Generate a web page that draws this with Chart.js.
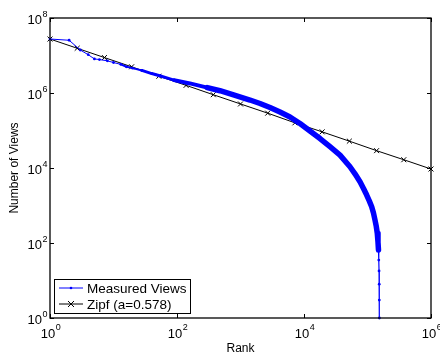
<!DOCTYPE html>
<html>
<head>
<meta charset="utf-8">
<script src="https://cdn.jsdelivr.net/npm/chart.js@4.4.0/dist/chart.umd.min.js"></script>
<style>
  html, body { margin: 0; padding: 0; background: #fff; }
  #wrap { width: 440px; height: 358px; }
</style>
</head>
<body>
<div id="wrap"><canvas id="zipfChart" width="440" height="358"></canvas></div>
<script>
// Measured views
const measuredRank = [1, 2, 3, 4, 5, 6, 8, 10, 13, 16, 20, 28, 40, 55, 90, 160, 300, 475, 800, 1411, 2028,
    2915, 4188, 6020, 8650, 12420, 17860, 25650, 36900, 53000, 63500, 76200, 86500, 97100,
    106700, 116400, 124200, 131200, 137600, 142600, 146300, 148900, 150500, 152000, 153000, 153500, 153800];
const measuredViews = [2.75e7, 2.55e7, 1.4e7, 1.05e7, 8.1e6, 7.8e6, 7.2e6, 6.5e6, 5.8e6, 5.0e6, 4.6e6, 4.0e6,
    3.3e6, 2.85e6, 2.2e6, 1.8e6, 1.39e6, 1.15e6, 8.8e5, 6.5e5, 5.25e5,
    4.1e5, 3.1e5, 2.3e5, 1.54e5, 9.7e4, 6.1e4, 3.7e4, 2.2e4, 1.08e4, 7.0e3, 4.3e3, 2.84e3, 1.9e3,
    1.33e3, 930, 630, 410, 275, 182, 106, 65, 35, 18, 8, 3, 1];

// Zipf fit markers
const zipfRank = [1, 2.68, 7.2, 19.3, 51.8, 139, 373, 1000, 2683, 7197, 19307, 51795, 138950, 372759, 1000000];
const zipfViews = [2.75e7, 1.56e7, 8.8e6, 5.0e6, 2.8e6, 1.6e6, 9.0e5, 5.1e5, 2.9e5, 1.6e5, 9.2e4, 5.2e4, 2.9e4, 1.66e4, 9.4e3];

const xTicks = [1, 100, 10000, 1000000];
const yTicks = [1, 100, 10000, 1000000, 100000000];

const FONT = '"Liberation Sans", Arial, Helvetica, sans-serif';

function pow10Label(ctx, v, x, y, align) {
    const exp = String(Math.round(Math.log10(v)));
    ctx.font = '13px ' + FONT;
    const w1 = ctx.measureText('10').width;
    ctx.font = '9px ' + FONT;
    const w2 = ctx.measureText(exp).width;
    const total = w1 + w2;
    let left = x - total / 2;
    if (align === 'right') left = x - total;
    ctx.textBaseline = 'middle';
    ctx.textAlign = 'left';
    ctx.font = '13px ' + FONT;
    ctx.fillText('10', left, y);
    ctx.font = '9px ' + FONT;
    ctx.fillText(exp, left + w1 + 0.5, y - 6);
}

// Frame, inward ticks, tick labels, axis titles and legend
const matlabAxes = {
    id: 'matlabAxes',
    afterDraw(chart) {
        const ctx = chart.ctx;
        const a = chart.chartArea;
        const xs = chart.scales.x, ys = chart.scales.y;
        ctx.save();
        ctx.strokeStyle = '#000';
        ctx.fillStyle = '#000';
        ctx.lineWidth = 1.3;
        ctx.strokeRect(a.left, a.top, a.right - a.left, a.bottom - a.top);
        ctx.lineWidth = 1;
        xTicks.forEach(v => {
            const px = Math.round(xs.getPixelForValue(v)) + 0.5;
            ctx.beginPath();
            ctx.moveTo(px, a.bottom); ctx.lineTo(px, a.bottom - 4);
            ctx.moveTo(px, a.top); ctx.lineTo(px, a.top + 4);
            ctx.stroke();
            pow10Label(ctx, v, px, a.bottom + 16, 'center');
        });
        yTicks.forEach(v => {
            const py = Math.round(ys.getPixelForValue(v)) + 0.5;
            ctx.beginPath();
            ctx.moveTo(a.left, py); ctx.lineTo(a.left + 4, py);
            ctx.moveTo(a.right, py); ctx.lineTo(a.right - 4, py);
            ctx.stroke();
            pow10Label(ctx, v, a.left - 3, py + 2, 'right');
        });

        ctx.font = '12px ' + FONT;
        ctx.textAlign = 'center';
        ctx.textBaseline = 'middle';
        ctx.fillText('Rank', (a.left + a.right) / 2, 349);
        ctx.save();
        ctx.translate(15, (a.top + a.bottom) / 2);
        ctx.rotate(-Math.PI / 2);
        ctx.fillText('Number of Views', 0, 0);
        ctx.restore();

        // legend box
        const bx = a.left + 4, by = 279, bw = 136, bh = 34;
        ctx.fillStyle = '#fff';
        ctx.fillRect(bx, by, bw, bh);
        ctx.lineWidth = 1;
        ctx.strokeStyle = '#000';
        ctx.strokeRect(bx + 0.5, by + 0.5, bw, bh);
        chart.data.datasets.forEach((ds, i) => {
            const ly = by + 9 + i * 16;
            ctx.strokeStyle = ds.borderColor;
            ctx.lineWidth = 1;
            ctx.beginPath();
            ctx.moveTo(bx + 5, ly); ctx.lineTo(bx + 29, ly);
            ctx.stroke();
            if (ds.pointStyle === 'crossRot') {
                ctx.beginPath();
                ctx.moveTo(bx + 14, ly - 3); ctx.lineTo(bx + 20, ly + 3);
                ctx.moveTo(bx + 14, ly + 3); ctx.lineTo(bx + 20, ly - 3);
                ctx.stroke();
            } else {
                ctx.fillStyle = ds.borderColor;
                ctx.beginPath();
                ctx.arc(bx + 17, ly, 1.3, 0, Math.PI * 2);
                ctx.fill();
            }
            ctx.fillStyle = '#000';
            ctx.font = '13.5px ' + FONT;
            ctx.textAlign = 'left';
            ctx.textBaseline = 'middle';
            ctx.fillText(ds.label, bx + 33, ly + 1);
        });
        ctx.restore();
    }
};

const ctx = document.getElementById('zipfChart').getContext('2d');
const zipfChart = new Chart(ctx, {
    type: 'line',
    data: {
        datasets: [{
            label: 'Measured Views',
            data: measuredRank.map((r, i) => ({ x: r, y: measuredViews[i] })),
            borderColor: '#0000ff',
            backgroundColor: '#0000ff',
            borderWidth: 1,
            pointRadius: 1.4,
            pointBorderWidth: 0,
            pointStyle: 'circle',
            tension: 0,
            borderJoinStyle: 'round',
            borderCapStyle: 'round',
            clip: false,
            segment: {
                // dense markers make the line look thicker further down the ranks
                borderWidth: c => {
                    const x = c.p0.parsed.x;
                    if (x < 12) return 1;
                    if (x < 25) return 2;
                    if (x < 60) return 3;
                    if (x < 300) return 4;
                    if (x < 148000) return 5.5;
                    return 1.2;
                }
            }
        }, {
            label: 'Zipf (a=0.578)',
            data: zipfRank.map((r, i) => ({ x: r, y: zipfViews[i] })),
            borderColor: '#000000',
            backgroundColor: '#000000',
            borderWidth: 1,
            pointStyle: 'crossRot',
            pointRadius: 3.5,
            pointBorderWidth: 1,
            tension: 0,
            clip: false
        }]
    },
    options: {
        responsive: false,
        animation: false,
        events: [],
        layout: { padding: { left: 50, right: 9, top: 18, bottom: 40 } },
        plugins: {
            legend: { display: false },
            tooltip: { enabled: false }
        },
        scales: {
            x: {
                type: 'logarithmic',
                min: 1,
                max: 1000000,
                grid: { display: false, drawTicks: false },
                border: { display: false },
                ticks: { display: false }
            },
            y: {
                type: 'logarithmic',
                min: 1,
                max: 100000000,
                grid: { display: false, drawTicks: false },
                border: { display: false },
                ticks: { display: false }
            }
        }
    },
    plugins: [matlabAxes]
});
</script>
</body>
</html>
